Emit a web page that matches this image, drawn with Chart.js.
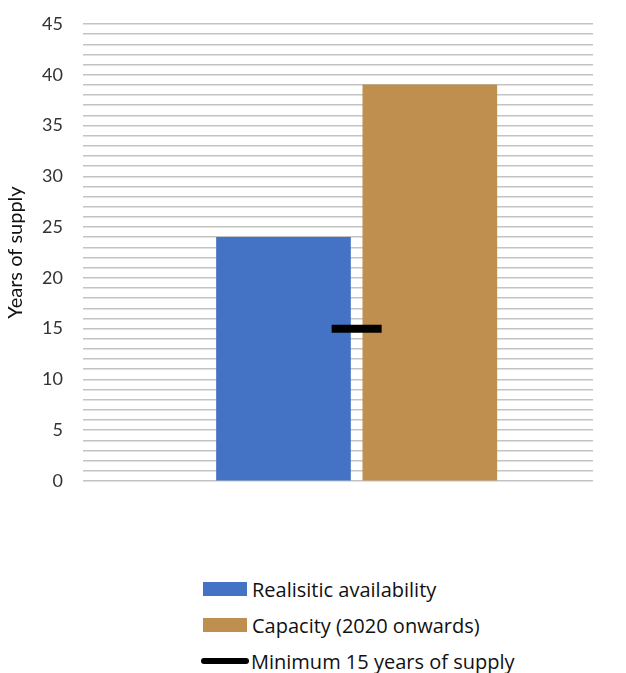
<!DOCTYPE html>
<html>
<head>
<meta charset="utf-8">
<script src="https://cdn.jsdelivr.net/npm/chart.js@4/dist/chart.umd.min.js"></script>
<style>
  html,body{margin:0;padding:0;background:#fff;overflow:hidden;}
  #wrap{position:absolute;left:0;top:-9px;width:626px;height:523px;}
  #legend{position:absolute;left:203px;top:571px;font-family:"Open Sans", Lato, sans-serif;font-size:20px;color:#111;}
  .item{display:flex;align-items:center;height:36px;}
  .sw{width:44px;height:14px;margin-right:5px;}
  .ln{width:48px;height:6px;border-radius:3px;background:#000;margin-right:2px;margin-left:-2px;}
</style>
</head>
<body>
<div id="wrap"><canvas id="c" width="626" height="523"></canvas></div>
<div id="legend"></div>
<script>
const categories = ["Realisitic availability", "Capacity (2020 onwards)"];
const realisticAvailability = [24];
const capacity2020 = [39];
const minimumSupply = [15];
const seriesNames = ["Realisitic availability", "Capacity (2020 onwards)", "Minimum 15 years of supply"];
const colors = ["#4472C4", "#BF8F4F", "#000000"];
// slot positions on the x axis: blue bar at 1, tan bar at 2, marker between
const barSlots = [1, 2];
const markerSlot = [1.5];

const ctx = document.getElementById('c');
new Chart(ctx, {
  type: 'bar',
  data: {
    datasets: [
      {type:'line', label: seriesNames[2], data: minimumSupply.map((v,i)=>({x:markerSlot[i], y:v})), showLine:false, pointStyle:'line', pointRadius:25, pointHoverRadius:25, borderColor:colors[2], backgroundColor:colors[2], borderWidth:8, order:0},
      {label: seriesNames[0], data: realisticAvailability.map(v=>({x:barSlots[0], y:v})), backgroundColor: colors[0], order:1, barThickness:134, grouped:false},
      {label: seriesNames[1], data: capacity2020.map(v=>({x:barSlots[1], y:v})), backgroundColor: colors[1], order:1, barThickness:134, grouped:false}
    ]
  },
  options: {
    responsive:false,
    animation:false,
    layout:{padding:{left:0,right:22,top:4,bottom:20}},
    plugins:{legend:{display:false}, tooltip:{enabled:false}},
    scales:{
      x:{type:'linear', offset:false, min:-0.37, max:3.115, grid:{display:false}, ticks:{display:false}, border:{display:false}},
      y:{
        min:0, max:45,
        afterFit:(s)=>{s.width=83;},
        ticks:{stepSize:1, autoSkip:false, padding:20, color:'#333', font:{family:'Lato, "Open Sans", sans-serif', size:18},
          callback:(v)=> (v%5===0 ? v : '')},
        grid:{color:'#c3c3c3', lineWidth:1.6, drawTicks:false},
        border:{display:false},
        title:{display:true, text:'Years of supply', color:'#111', font:{family:'Lato, "Open Sans", sans-serif', size:20}, padding:{bottom:2}}
      }
    }
  }
});

const lg = document.getElementById('legend');
seriesNames.forEach((n,i)=>{
  const d=document.createElement('div'); d.className='item';
  const s=document.createElement('div'); s.className = i<2 ? 'sw' : 'ln';
  if(i<2) s.style.background=colors[i];
  d.appendChild(s);
  const t=document.createElement('span'); t.textContent=n; d.appendChild(t);
  lg.appendChild(d);
});
</script>
</body>
</html>
